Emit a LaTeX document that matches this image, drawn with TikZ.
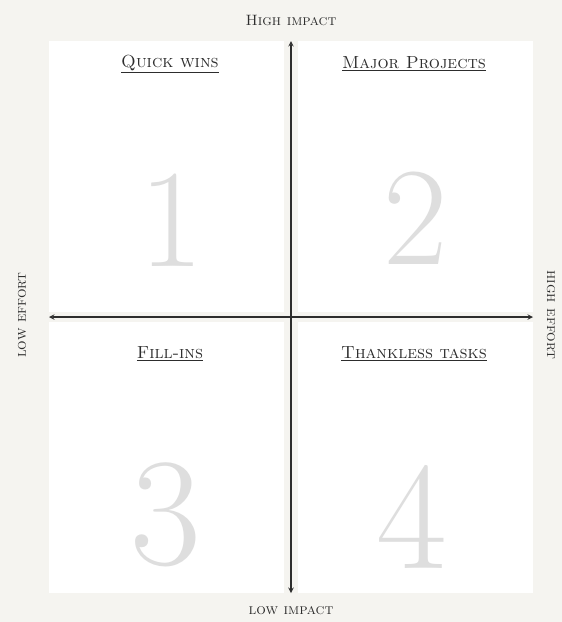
\documentclass[tikz,border=0pt]{standalone}
\usepackage{xcolor}
\usepackage{tikz}
\usetikzlibrary{positioning,arrows}
\definecolor{paper}{RGB}{245,244,240}
\definecolor{ink}{RGB}{45,45,45}
\definecolor{faint}{RGB}{222,222,222}

\begin{document}
\begin{tikzpicture}[
    x=1pt,y=-1pt,>=stealth,
    quad/.style={fill=white,inner sep=0pt,minimum width=235pt,minimum height=271pt,anchor=north west},
    title/.style={font=\fontsize{17.5}{19}\selectfont\scshape,text=ink},
    axislabel/.style={font=\fontsize{15}{17}\selectfont\scshape,text=ink},
    bignum/.style={font=\fontsize{140}{140}\selectfont,text=faint,inner sep=0pt},
    axis/.style={draw=ink,line width=1.4pt,<->}
  ]
    \fill[paper] (0,0) rectangle (562,622);
    \useasboundingbox (0,0) rectangle (562,622);

    % quadrants
    \node[quad] (quick) at (49,41) {};
    \node[quad] (major) at (298,41) {};
    \node[quad] (fill) at (49,322) {};
    \node[quad] (thank) at (298,322) {};

    \node[title] (quicklbl) at (170,64) {\underline{Quick wins}};
    \node[title] (majorlbl) at (414,64) {\underline{Major Projects}};
    \node[title] (filllbl) at (170,354) {\underline{Fill-ins}};
    \node[title] (thanklbl) at (414,354) {\underline{Thankless tasks}};

    \node[bignum] (one) at (172,220) {1};
    \node[bignum] (two) at (416,218) {2};
    \node[bignum,scale=1.1] (three) at (166,515) {3};
    \node[bignum,scale=1.1] (four) at (412,517) {4};

    % axes
    \coordinate (top) at (291,41);
    \coordinate (bottom) at (291,593);
    \coordinate (left) at (49,317);
    \coordinate (right) at (533,317);
    \draw[axis] (bottom) -- (top);
    \draw[axis] (left) -- (right);

    \node[axislabel] (highimp) at (291,20) {High impact};
    \node[axislabel] (lowimp) at (291,611) {low impact};
    \node[axislabel,rotate=90] (loweff) at (22,315) {low effort};
    \node[axislabel,rotate=-90] (higheff) at (551,315) {high effort};
  \end{tikzpicture}
\end{document}
